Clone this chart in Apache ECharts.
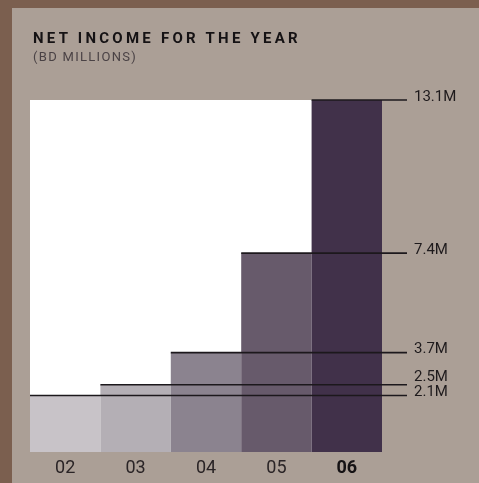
<!DOCTYPE html>
<html>
<head>
<meta charset="utf-8">
<script src="https://cdn.jsdelivr.net/npm/echarts@6/dist/echarts.min.js"></script>
<style>
  html, body { margin: 0; padding: 0; }
  body { width: 479px; height: 483px; position: relative; overflow: hidden; background: #ab9f96; }
  #chart { position: absolute; left: 0; top: 0; width: 479px; height: 483px; }
  .heading { position: absolute; left: 33px; white-space: nowrap; font-family: Roboto, "DejaVu Sans", sans-serif; }
  #title { top: 29px; font-size: 15px; line-height: 18px; font-weight: bold; letter-spacing: 3.25px; color: #151214; }
  #subtitle { top: 49px; font-size: 13px; line-height: 16px; letter-spacing: 1.3px; color: #4a4245; }
</style>
</head>
<body>
<div id="chart"></div>
<div class="heading" id="title">NET INCOME FOR THE YEAR</div>
<div class="heading" id="subtitle">(BD MILLIONS)</div>
<script>
// Year labels and net income (BD millions)
const categories = ['02', '03', '04', '05', '06'];
const netIncome = [2.1, 2.5, 3.7, 7.4, 13.1];
const valueLabels = ['2.1M', '2.5M', '3.7M', '7.4M', '13.1M'];

// Shade per year, light to dark
const barColors = ['#c8c3c8', '#b4afb5', '#8b838f', '#675a6b', '#41314a'];

const MIN_LABEL_GAP = 15;

const chart = echarts.init(document.getElementById('chart'), null, { renderer: 'canvas' });

chart.setOption({
  backgroundColor: 'transparent',
  animation: false,
  graphic: [
    { type: 'rect', left: 0, top: 0, shape: { width: 479, height: 8 }, style: { fill: '#7b5f4f' }, z: 0 },
    { type: 'rect', left: 0, top: 0, shape: { width: 12, height: 483 }, style: { fill: '#7b5f4f' }, z: 0 }
  ],
  grid: {
    left: 30, right: 97, top: 100, bottom: 31,
    show: true, backgroundColor: '#ffffff', borderWidth: 0
  },
  xAxis: {
    type: 'category',
    data: categories.map((c, i) => i === categories.length - 1
      ? { value: c, textStyle: { fontWeight: 'bold', color: '#151214' } }
      : c),
    axisLine: { show: false },
    axisTick: { show: false },
    axisLabel: {
      margin: 7,
      fontSize: 18,
      fontFamily: 'Roboto, "DejaVu Sans", sans-serif',
      color: '#2a2426'
    }
  },
  yAxis: {
    type: 'value',
    min: 0,
    max: 13.1,
    show: false,
    splitLine: { show: false }
  },
  series: [
    {
      type: 'bar',
      barWidth: '100%',
      barCategoryGap: '0%',
      data: netIncome.map((v, i) => ({ value: v, itemStyle: { color: barColors[i] } })),
      z: 2
    },
    {
      // Leader line from each bar's top-left corner out to its value label
      type: 'custom',
      z: 5,
      clip: false,
      data: netIncome.map((v, i) => [i, v]),
      encode: { x: 0, y: 1 },
      renderItem: function (params, api) {
        const i = api.value(0);
        const v = api.value(1);
        const pt = api.coord([i, v]);
        const band = api.size([1, 0])[0];
        const cs = params.coordSys;
        const xStart = pt[0] - band / 2;
        const xEnd = cs.x + cs.width + 25;
        // keep neighbouring labels from colliding
        let labelY = pt[1] - 3;
        if (i > 0) {
          const below = api.coord([i - 1, netIncome[i - 1]])[1];
          const gap = below - pt[1];
          if (gap < MIN_LABEL_GAP) labelY -= (MIN_LABEL_GAP - gap);
        }
        return {
          type: 'group',
          children: [
            {
              type: 'line',
              shape: { x1: xStart, y1: pt[1], x2: xEnd, y2: pt[1] },
              style: { stroke: '#1c181c', lineWidth: 1.6 }
            },
            {
              type: 'text',
              style: {
                x: xEnd + 7,
                y: labelY,
                text: valueLabels[i],
                fill: '#1e1a1c',
                fontSize: 15,
                fontFamily: 'Roboto, "DejaVu Sans", sans-serif',
                align: 'left',
                verticalAlign: 'middle'
              }
            }
          ]
        };
      }
    }
  ]
});
</script>
</body>
</html>
